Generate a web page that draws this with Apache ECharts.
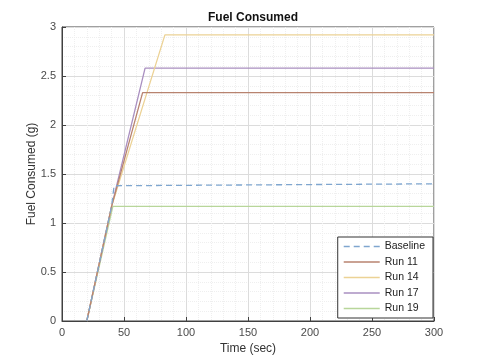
<!DOCTYPE html>
<html><head><meta charset="utf-8">
<script src="https://cdn.jsdelivr.net/npm/echarts@6/dist/echarts.min.js"></script>
<style>html,body{margin:0;padding:0;background:#fff}#c{width:481px;height:360px}</style>
</head><body><div id="c"></div>
<script>
const seriesNames = ['Baseline', 'Run 11', 'Run 14', 'Run 17', 'Run 19'];
const baseline = [[20, 0], [40, 1.17], [42, 1.38], [300, 1.40]];
const run11 = [[20, 0], [40, 1.17], [65, 2.33], [300, 2.33]];
const run14 = [[20, 0], [40, 1.17], [83, 2.92], [300, 2.92]];
const run17 = [[20, 0], [40, 1.17], [67, 2.58], [300, 2.58]];
const run19 = [[20, 0], [41, 1.17], [300, 1.17]];
const xTicks = [0, 50, 100, 150, 200, 250, 300];
const yTicks = [0, 0.5, 1, 1.5, 2, 2.5, 3];
const colors = ['#7fa6cf', '#b8836f', '#ecd295', '#a98fc0', '#b8d69a'];
const dataSets = [baseline, run11, run14, run17, run19];

const chart = echarts.init(document.getElementById('c'));
const axisCommon = {
  axisLine: {show: true, lineStyle: {color: '#404040', width: 1}},
  axisTick: {show: true, inside: true, length: 4, lineStyle: {color: '#404040'}},
  axisLabel: {color: '#4a4a4a', fontSize: 11, fontFamily: 'Liberation Sans, Arial'},
  splitLine: {show: true, lineStyle: {color: '#dcdcdc', width: 1}},
  minorTick: {show: false, splitNumber: 5},
  minorSplitLine: {show: true, lineStyle: {color: '#efefef', type: 'dotted', width: 1}},
  nameTextStyle: {color: '#333', fontSize: 12, fontFamily: 'Liberation Sans, Arial'}
};
const solidIcon = 'path://M0,5L36,5L36,6.3L0,6.3Z';
const dashIcon = 'path://M0,5L6,5L6,6.3L0,6.3ZM10,5L16,5L16,6.3L10,6.3ZM20,5L26,5L26,6.3L20,6.3ZM30,5L36,5L36,6.3L30,6.3Z';
chart.setOption({
  animation: false,
  backgroundColor: '#fff',
  title: {text: 'Fuel Consumed', left: 248, top: 7, textAlign: 'center',
    textStyle: {fontSize: 12, fontWeight: 'bold', color: '#111', fontFamily: 'Liberation Sans, Arial'}},
  grid: {left: 62, right: 47, top: 27, bottom: 39, show: true, borderColor: '#404040', borderWidth: 1, backgroundColor: 'transparent'},
  legend: {
    orient: 'vertical', right: 48, top: 237, itemWidth: 36, itemHeight: 10, itemGap: 4.5,
    padding: [4, 8, 4, 6], borderColor: '#333', borderWidth: 1, backgroundColor: '#fff',
    textStyle: {fontSize: 10.5, color: '#222', fontFamily: 'Liberation Sans, Arial'},
    data: seriesNames.map((n, i) => ({name: n, icon: i === 0 ? dashIcon : solidIcon}))
  },
  xAxis: Object.assign({}, axisCommon, {
    type: 'value', min: 0, max: 300, interval: 50,
    name: 'Time (sec)', nameLocation: 'middle', nameGap: 20,
    axisLabel: Object.assign({}, axisCommon.axisLabel, {margin: 6,
      formatter: v => xTicks.includes(v) ? String(v) : ''})
  }),
  yAxis: Object.assign({}, axisCommon, {
    type: 'value', min: 0, max: 3, interval: 0.5,
    name: 'Fuel Consumed (g)', nameLocation: 'middle', nameGap: 24, nameRotate: 90,
    nameMoveOverlap: false,
    axisLabel: Object.assign({}, axisCommon.axisLabel, {margin: 6,
      formatter: v => yTicks.includes(v) ? String(v) : ''})
  }),
  series: seriesNames.map((n, i) => ({
    name: n, type: 'line', data: dataSets[i], symbol: 'none',
    color: colors[i],
    lineStyle: {color: colors[i], width: 1.3, type: i === 0 ? [6, 4] : 'solid'},
    z: i === 0 ? 10 : 5 - i
  }))
});
</script></body></html>
